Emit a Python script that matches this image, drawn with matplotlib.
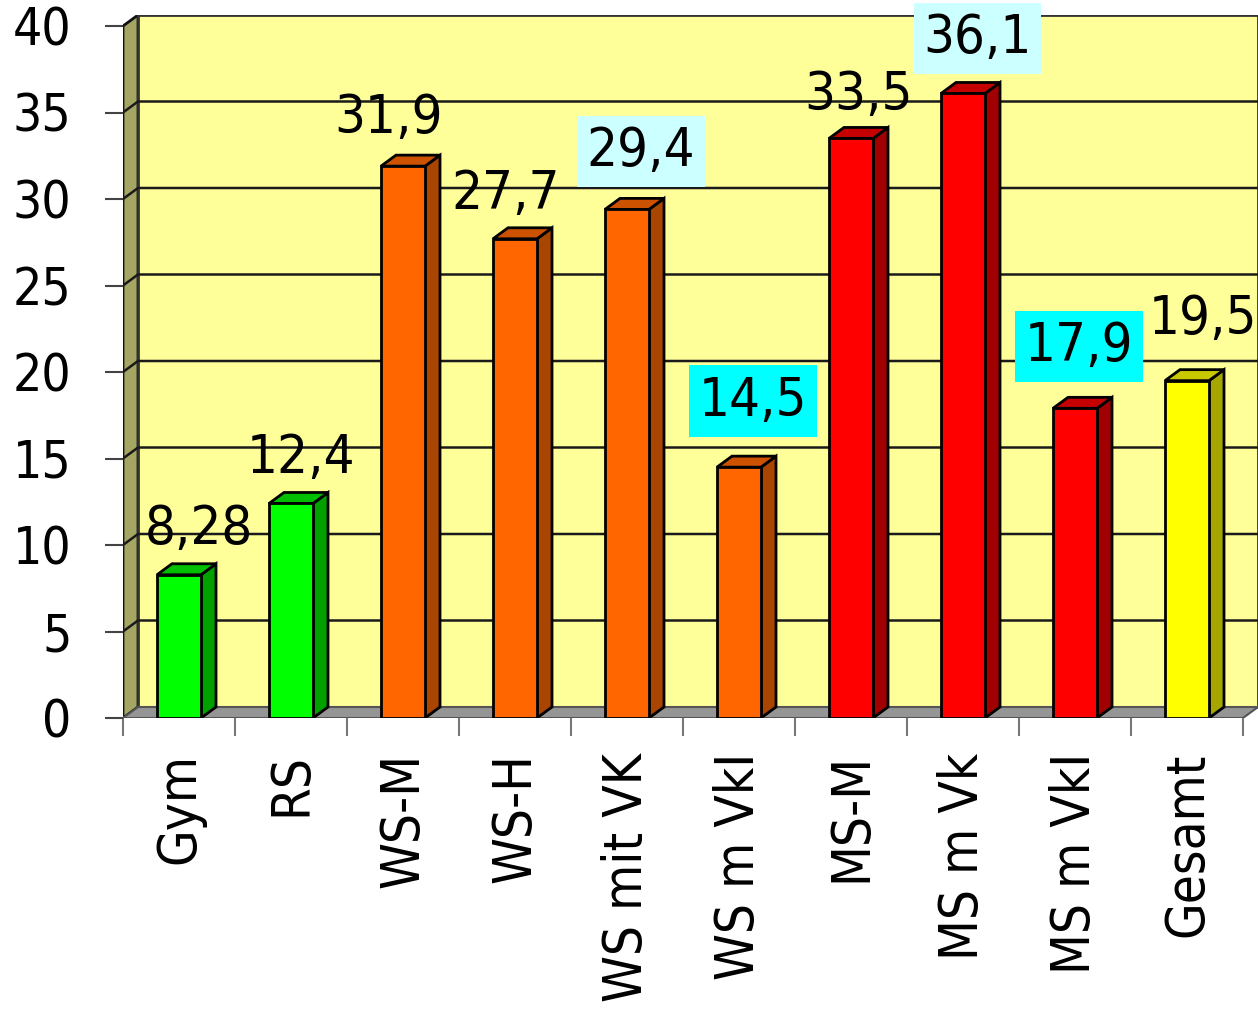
import matplotlib
matplotlib.use('Agg')
import matplotlib.pyplot as plt
from matplotlib.patches import Polygon, Rectangle

# Data
categories = ['Gym', 'RS', 'WS-M', 'WS-H', 'WS mit VK', 'WS m VkI',
              'MS-M', 'MS m Vk', 'MS m VkI', 'Gesamt']
values = [8.28, 12.4, 31.9, 27.7, 29.4, 14.5, 33.5, 36.1, 17.9, 19.5]
groups = ['GR', 'GR', 'WS', 'WS', 'WS', 'WS', 'MS', 'MS', 'MS', 'ALL']
highlight = [None, None, None, None, 'light', 'strong', None, 'light', 'strong', None]
y_ticks = list(range(0, 41, 5))

# colours: front, top, side
palette = {
    'GR': ('#00FF00', '#00BE00', '#00A000'),
    'WS': ('#FF6600', '#CC5200', '#A84500'),
    'MS': ('#FF0000', '#C40000', '#A00000'),
    'ALL': ('#FFFF00', '#C8C800', '#A6A600'),
}
box_colors = {'light': '#CCFFFF', 'strong': '#00FFFF'}

# label nudges in pixels (Excel moved some labels around)
label_dx = [12, 2, -22, -17, 6, 6, 0, 7, -4, 8]
label_dy = [35, 34, 37, 34, 47, 55, 32, 44, 51, 51]

plt.rcParams['font.family'] = 'DejaVu Sans'
plt.rcParams['font.stretch'] = 'condensed'

W, H = 1258, 1009
fig = plt.figure(figsize=(W / 100, H / 100), dpi=100)
ax = fig.add_axes([123 / W, (H - 718) / H, (W - 123) / W, 703 / H])

ymax = 40
DX = 15 / 112          # depth in category units
DY = 11 / 17.3         # depth in value units
BW = 44 / 112          # bar width
n = len(categories)
ax.set_xlim(-0.5, n - 0.5 + DX)
ax.set_ylim(0, ymax + DY)
for s in ax.spines.values():
    s.set_visible(False)
ax.patch.set_visible(False)

# walls and floor
x_l, x_r = -0.5, n - 0.5
ax.add_patch(Polygon([(x_l, 0), (x_l, ymax), (x_l + DX, ymax + DY), (x_l + DX, DY)],
                     closed=True, fc='#A6A664', ec='#111111', lw=2, zorder=1))
ax.add_patch(Rectangle((x_l + DX, DY), x_r - x_l, ymax, fc='#FFFF99',
                       ec='#333333', lw=2, zorder=1))
ax.add_patch(Polygon([(x_l, 0), (x_r, 0), (x_r + DX, DY), (x_l + DX, DY)],
                     closed=True, fc='#959595', ec='#555555', lw=1.5, zorder=1))
for v in y_ticks[1:-1]:
    ax.plot([x_l, x_l + DX, x_r + DX], [v, v + DY, v + DY], color='#1a1a1a',
            lw=1.8, zorder=2, solid_joinstyle='miter')

# 3d bars
for i, (v, g) in enumerate(zip(values, groups)):
    front, top, side = palette[g]
    x0, x1 = i - BW / 2, i + BW / 2
    kw = dict(closed=True, ec='black', lw=2, joinstyle='miter', zorder=3)
    ax.add_patch(Polygon([(x1, 0), (x1 + DX, DY), (x1 + DX, v + DY), (x1, v)], fc=side, **kw))
    ax.add_patch(Polygon([(x0, v), (x1, v), (x1 + DX, v + DY), (x0 + DX, v + DY)], fc=top, **kw))
    ax.add_patch(Polygon([(x0, 0), (x1, 0), (x1, v), (x0, v)], fc=front, **kw))

    txt = f'{v:.3g}'.replace('.', ',')
    bbox = None
    if highlight[i]:
        bbox = dict(boxstyle='square,pad=0.18', fc=box_colors[highlight[i]], ec='none')
    ax.annotate(txt, xy=(i + DX / 2, v + DY), xytext=(label_dx[i], label_dy[i]),
                textcoords='offset pixels', ha='center', va='center',
                fontsize=39, bbox=bbox, zorder=5, annotation_clip=False)

ax.set_yticks(y_ticks)
ax.tick_params(axis='y', length=13, width=1.5, color='#444444', pad=24, labelsize=37)
ax.set_xticks(range(n))
ax.set_xticklabels(categories, rotation=90, fontsize=38)
ax.tick_params(axis='x', which='major', length=0, pad=25)
ax.set_xticks([i - 0.5 for i in range(n + 1)], minor=True)
ax.tick_params(axis='x', which='minor', length=13, width=1.5, color='#777777')

fig.savefig('out.png', dpi=100)
